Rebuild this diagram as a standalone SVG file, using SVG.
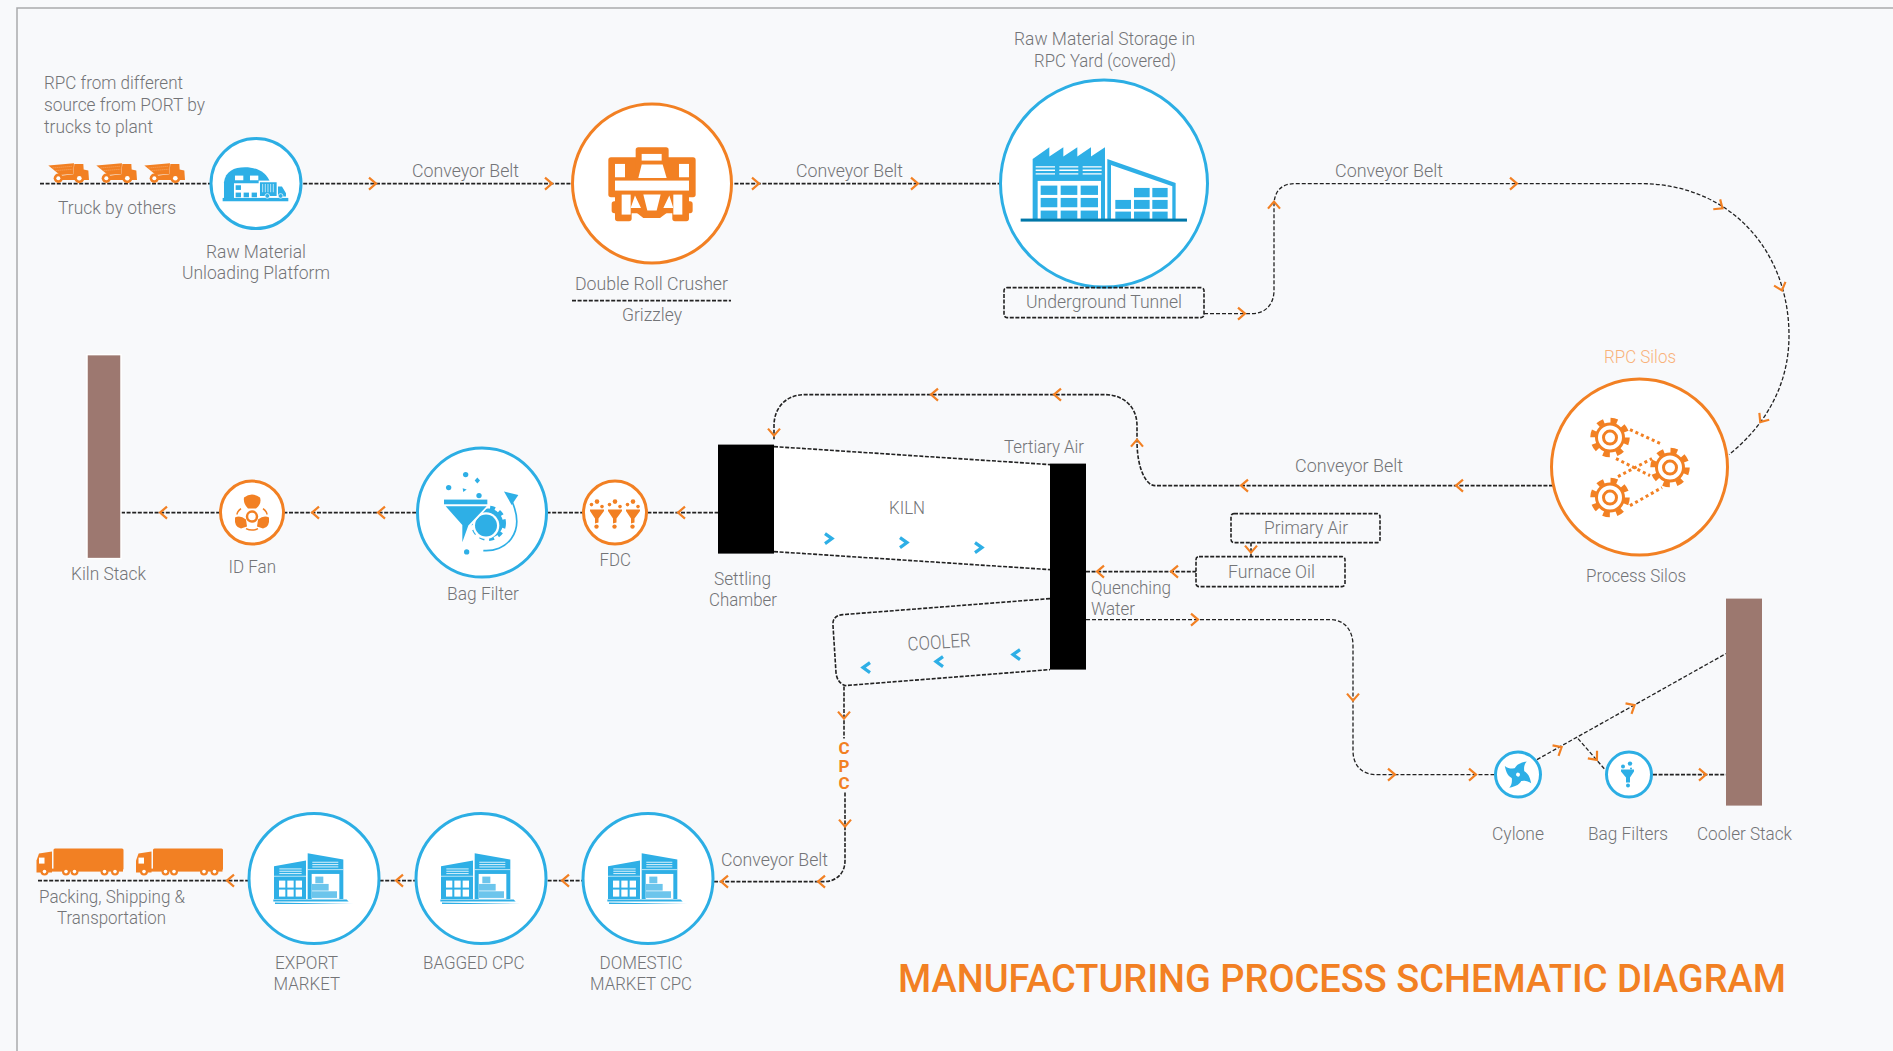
<svg xmlns="http://www.w3.org/2000/svg" width="1893" height="1051" viewBox="0 0 1893 1051">
<style>
text{font-family:"Roboto","Liberation Sans",sans-serif;font-weight:300;font-size:19px;fill:#737477}
.c{fill:none;stroke:#222;stroke-width:1.6;stroke-dasharray:4 1.6}
.t{fill:none;stroke:#222;stroke-width:1.3;stroke-dasharray:4 2}
.b{fill:#fff;stroke:#2caee4;stroke-width:3}
.o{fill:#fff;stroke:#f28023;stroke-width:3}
.box{fill:none;stroke:#222;stroke-width:1.6;stroke-dasharray:4 1.6}
.bf{fill:#2eafe6}.of{fill:#f28023}.wf{fill:#fff}
.ar{fill:none;stroke:#f28023;stroke-width:2.2}
.ka{fill:none;stroke:#2eafe6;stroke-width:3.2}
</style>
<defs>
<path id="a" class="ar" d="M-4-6 3 0-4 6"/>
<path id="k" class="ka" d="M-4-5 3 0-4 5"/>
<g id="dump" transform="scale(.3333)">
<path class="of" d="M25 75 102 68 100 100 60 103Z"/>
<path class="of" d="M103 70H130L131 87 145 90 147 118H60L56 106 100 101Z"/>
<path d="M38 82 97 77M47 90 97 86" stroke="#fde3cd" stroke-width="1.200" stroke-dasharray="3 3" fill="none"/>
<circle class="of" cx="55" cy="113" r="14"/><circle class="wf" cx="55" cy="113" r="6"/>
<circle class="of" cx="118" cy="113" r="15"/><circle class="wf" cx="118" cy="113" r="7"/>
</g>
<g id="trailer">
<rect class="of" x="53.500" y="848" width="70" height="21.500" rx="1.500"/>
<path class="of" d="M36.500 872V860L39 853 52 851V872Z"/>
<rect class="of" x="50" y="868" width="73" height="3"/>
<rect x="39" y="857" width="5.500" height="6" fill="#fff"/>
<g class="of"><circle cx="44.500" cy="871" r="4"/><circle cx="66" cy="871" r="4"/><circle cx="74.500" cy="871" r="4"/><circle cx="104.500" cy="871" r="4"/><circle cx="115" cy="871" r="4"/></g>
<g class="wf"><circle cx="44.500" cy="871" r="1.800"/><circle cx="66" cy="871" r="1.800"/><circle cx="74.500" cy="871" r="1.800"/><circle cx="104.500" cy="871" r="1.800"/><circle cx="115" cy="871" r="1.800"/></g>
</g>
<g id="ware" transform="translate(260 840) scale(.3333)">
<path class="bf" d="M42 77 138 60V175H42Z"/>
<path class="bf" d="M143 38 250 57V175H143Z"/>
<path d="M58 85H125M58 92H125M58 99H125M157 65H235M157 72H235M157 79H235" stroke="#fff" stroke-width="2.500"/>
<path d="M42 107H138M143 87H250" stroke="#fff" stroke-width="2"/>
<g class="wf"><rect x="57" y="120" width="19" height="21"/><rect x="82" y="120" width="19" height="21"/><rect x="107" y="120" width="19" height="21"/><rect x="57" y="147" width="19" height="21"/><rect x="82" y="147" width="19" height="21"/><rect x="107" y="147" width="19" height="21"/><rect x="155" y="100" width="83" height="75"/></g>
<g fill="#6cc5ec"><rect x="166" y="108" width="24" height="20"/><rect x="156" y="130" width="50" height="20"/><rect x="156" y="152" width="75" height="20"/></g>
<path class="bf" d="M40 177H260L266 183H40ZM45 186 280 190H45Z"/>
</g>
<g id="gear">
<circle r="16.500" fill="none" stroke="#f28023" stroke-width="6.500" stroke-dasharray="6.500 6.460"/>
<circle r="13.500" fill="#fff" stroke="#f28023" stroke-width="3"/>
<circle r="6.500" fill="#fff" stroke="#f28023" stroke-width="3"/>
</g>
<g id="minif">
<circle class="of" cx="0" cy="-12" r="2.300"/><circle class="of" cx="-5.500" cy="-9" r="1.800"/><circle class="of" cx="5" cy="-7" r="1.800"/>
<path class="of" d="M-7-4H7V-2.500L1.500 5V9L-2 10V5L-7-2.500Z"/>
<circle class="of" cx="-.5" cy="13" r="2.200"/>
</g>
<path id="blade" class="bf" d="M-5-3C-5-9-1-12 5-15 3-11 4-7 6-3Z"/>
</defs>

<rect width="1893" height="1051" fill="#f8f9fb"/>
<path d="M17 1051V8H1893" fill="none" stroke="#a9abad" stroke-width="1.500"/>

<g transform="translate(0 .6)">
<g id="connectors">
<path class="c" d="M40 183H1004"/>
<path class="t" d="M1204 313H1252C1266 313 1274 303 1274 290V205C1274 192 1280 183 1295 183H1640C1730 183 1789 250 1789 335C1789 385 1765 425 1729 454"/>
<path class="c" d="M1553 485H1155C1146 485 1137 468 1137 440V425C1137 405 1122 394 1105 394H805C785 394 774 408 774 425V440"/>
<path class="c" d="M121 512H718"/>
<path class="c" d="M1086 571H1196"/>
<path class="c" d="M1251 542V556"/>
<path class="t" d="M1086 619H1330C1345 619 1353 630 1353 645V750C1353 765 1362 774 1376 774H1494"/>
<path class="t" d="M1537 759 1726 653"/>
<path class="t" d="M1578 738 1605 769"/>
<path class="c" d="M1653 774H1726"/>
<path class="c" d="M844 686V738M845 792V860C845 873 836 881 824 881H713"/>
<path class="c" d="M38 880H584"/>
<use href="#a" transform="translate(373 183)"/>
<use href="#a" transform="translate(549 183)"/>
<use href="#a" transform="translate(756 183)"/>
<use href="#a" transform="translate(915 183)"/>
<use href="#a" transform="translate(1514 183)"/>
<use href="#a" transform="translate(1720 206) rotate(35)"/>
<use href="#a" transform="translate(1781 287) rotate(72)"/>
<use href="#a" transform="translate(1762 419) rotate(125)"/>
<use href="#a" transform="translate(1242 313)"/>
<use href="#a" transform="translate(1274 204) rotate(-90)"/>
<use href="#a" transform="translate(1459 485) rotate(180)"/>
<use href="#a" transform="translate(1244 485) rotate(180)"/>
<use href="#a" transform="translate(1137 442) rotate(-90)"/>
<use href="#a" transform="translate(1057 394) rotate(180)"/>
<use href="#a" transform="translate(934 394) rotate(180)"/>
<use href="#a" transform="translate(774 432) rotate(90)"/>
<use href="#a" transform="translate(681 512) rotate(180)"/>
<use href="#a" transform="translate(381 512) rotate(180)"/>
<use href="#a" transform="translate(315 512) rotate(180)"/>
<use href="#a" transform="translate(163 512) rotate(180)"/>
<use href="#a" transform="translate(1251 549) rotate(90)"/>
<use href="#a" transform="translate(1174 571) rotate(180)"/>
<use href="#a" transform="translate(1100 571) rotate(180)"/>
<use href="#a" transform="translate(1195 619)"/>
<use href="#a" transform="translate(1353 697) rotate(90)"/>
<use href="#a" transform="translate(1392 774)"/>
<use href="#a" transform="translate(1473 774)"/>
<use href="#a" transform="translate(1559 748) rotate(-30)"/>
<use href="#a" transform="translate(1632 706) rotate(-30)"/>
<use href="#a" transform="translate(1595 757) rotate(50)"/>
<use href="#a" transform="translate(1703 774)"/>
<use href="#a" transform="translate(844 715) rotate(90)"/>
<use href="#a" transform="translate(845 823) rotate(90)"/>
<use href="#a" transform="translate(821 881) rotate(180)"/>
<use href="#a" transform="translate(724 881) rotate(180)"/>
<use href="#a" transform="translate(565 880) rotate(180)"/>
<use href="#a" transform="translate(399 880) rotate(180)"/>
<use href="#a" transform="translate(230 880) rotate(180)"/>
</g>

<g id="trucks">
<use href="#dump" transform="translate(40 140)"/>
<use href="#dump" transform="translate(88 140)"/>
<use href="#dump" transform="translate(136 140)"/>
<text x="44" y="88" textLength="139" lengthAdjust="spacingAndGlyphs">RPC from different</text>
<text x="44" y="110" textLength="161" lengthAdjust="spacingAndGlyphs">source from PORT by</text>
<text x="44" y="132" textLength="109" lengthAdjust="spacingAndGlyphs">trucks to plant</text>
<text x="58" y="213" textLength="118" lengthAdjust="spacingAndGlyphs">Truck by others</text>
</g>

<g id="unloading">
<circle class="b" cx="256" cy="183" r="45"/>
<g transform="translate(40 140) scale(.3333)">
<path class="bf" d="M552 178V125C556 92 582 80 615 80 650 80 680 95 690 125V178Z"/>
<g class="wf"><rect x="585" y="105" width="25" height="14"/><rect x="630" y="105" width="25" height="14"/><rect x="582" y="128" width="82" height="46"/></g>
<g class="bf"><rect x="587" y="134" width="16" height="14"/><rect x="587" y="156" width="16" height="14"/><rect x="611" y="156" width="16" height="14"/><rect x="635" y="156" width="16" height="14"/></g>
<rect class="wf" x="656" y="120" width="90" height="52"/>
<path class="bf" d="M660 125H710V166H660ZM714 138H726L738 158V168H714Z"/>
<path d="M668 130V155M676 130V155M684 130V155M692 130V155M700 130V155" stroke="#fff" stroke-width="2"/>
<rect class="bf" x="548" y="172" width="197" height="10"/>
<circle class="bf" cx="682" cy="166" r="7" stroke="#fff" stroke-width="2"/><circle class="bf" cx="722" cy="166" r="7" stroke="#fff" stroke-width="2"/>
</g>
<text x="206" y="257" textLength="100" lengthAdjust="spacingAndGlyphs">Raw Material</text>
<text x="182" y="278" textLength="148" lengthAdjust="spacingAndGlyphs">Unloading Platform</text>
</g>

<g id="crusher">
<circle class="o" cx="652" cy="183" r="79.500"/>
<g transform="translate(540 90) scale(.3333)">
<rect class="of" x="205" y="200" width="262" height="120" rx="8"/>
<path class="of" d="M295 170H378Q386 170 386 178V240H287V178Q287 170 295 170Z"/>
<rect class="of" x="215" y="332" width="243" height="36" rx="8"/>
<rect class="of" x="225" y="310" width="50" height="82" rx="8"/>
<rect class="of" x="397" y="310" width="50" height="82" rx="8"/>
<path class="of" d="M272 310H400V352L360 382H310L272 352Z"/>
<g class="wf">
<rect x="305" y="190" width="60" height="20"/>
<rect x="225" y="220" width="30" height="40"/><rect x="417" y="220" width="30" height="40"/>
<rect x="225" y="270" width="222" height="30"/>
<path d="M305 222H368L380 262H295Z"/>
<rect x="245" y="312" width="27" height="60"/><rect x="400" y="312" width="27" height="60"/>
<path d="M285 315 272 352H303ZM388 315 370 352H400ZM310 312H362L350 360H322Z"/>
</g>
</g>
<text x="575" y="289" textLength="153" lengthAdjust="spacingAndGlyphs">Double Roll Crusher</text>
<path class="c" d="M572 300H731"/>
<text x="622" y="320" textLength="60" lengthAdjust="spacingAndGlyphs">Grizzley</text>
</g>

<g id="storage">
<circle class="b" cx="1104" cy="183" r="103.500"/>
<g transform="translate(990 70) scale(.3333)">
<path class="bf" d="M128 265 178 230V258L220 230V258L262 230V258L303 230V258L345 230V445H128Z"/>
<path d="M137 289H195M208 289H265M278 289H335M137 299H195M208 299H265M278 299H335M137 310H195M208 310H265M278 310H335" stroke="#fff" stroke-width="4"/>
<rect class="wf" x="143" y="331" width="190" height="114"/>
<g class="bf"><rect x="152" y="345" width="50" height="28"/><rect x="212" y="345" width="50" height="28"/><rect x="272" y="345" width="52" height="28"/><rect x="152" y="382" width="50" height="28"/><rect x="212" y="382" width="50" height="28"/><rect x="272" y="382" width="52" height="28"/><rect x="152" y="420" width="50" height="25"/><rect x="212" y="420" width="50" height="25"/><rect x="272" y="420" width="52" height="25"/></g>
<path class="bf" d="M352 265 557 337V445H352Z"/>
<path class="wf" d="M363 283 547 347V445H363Z"/>
<g class="bf"><rect x="432" y="352" width="47" height="28"/><rect x="487" y="352" width="46" height="28"/><rect x="376" y="388" width="47" height="27"/><rect x="432" y="388" width="47" height="27"/><rect x="487" y="388" width="46" height="27"/><rect x="376" y="423" width="47" height="22"/><rect x="432" y="423" width="47" height="22"/><rect x="487" y="423" width="46" height="22"/></g>
<rect x="92" y="444" width="499" height="9" fill="#0077a8"/>
</g>
<text x="1014" y="44.500" textLength="181" lengthAdjust="spacingAndGlyphs">Raw Material Storage in</text>
<text x="1034" y="66.500" textLength="142" lengthAdjust="spacingAndGlyphs">RPC Yard (covered)</text>
</g>

<g id="tunnel">
<rect class="box" x="1004" y="287" width="200" height="30" rx="3"/>
<text x="1026" y="307" textLength="156" lengthAdjust="spacingAndGlyphs">Underground Tunnel</text>
</g>
<text x="412" y="176.500" textLength="107" lengthAdjust="spacingAndGlyphs">Conveyor Belt</text>
<text x="796" y="176.500" textLength="107" lengthAdjust="spacingAndGlyphs">Conveyor Belt</text>
<text x="1335" y="176.500" textLength="108" lengthAdjust="spacingAndGlyphs">Conveyor Belt</text>
<text x="1295" y="471.500" textLength="108" lengthAdjust="spacingAndGlyphs">Conveyor Belt</text>
<text x="721" y="865" textLength="107" lengthAdjust="spacingAndGlyphs">Conveyor Belt</text>

<g id="silos">
<circle class="o" cx="1639.500" cy="466.500" r="88"/>
<path d="M1630 429 1662.500 444M1616 458 1650 475M1618 476 1652 458M1630 505 1662 487" stroke="#f28023" stroke-width="3" stroke-dasharray="3 3" fill="none"/>
<use href="#gear" transform="translate(1610 437)"/>
<use href="#gear" transform="translate(1610 497)"/>
<use href="#gear" transform="translate(1670 467)"/>
<text x="1604" y="362.500" textLength="72" lengthAdjust="spacingAndGlyphs" style="fill:#f9b27a">RPC Silos</text>
<text x="1586" y="581" textLength="100" lengthAdjust="spacingAndGlyphs">Process Silos</text>
</g>

<g id="kiln-stack">
<rect x="87" y="354" width="34" height="204" fill="#9d7870" stroke="#fff" stroke-width="1.500"/>
<text x="71" y="579" textLength="75" lengthAdjust="spacingAndGlyphs">Kiln Stack</text>
</g>

<g id="id-fan">
<circle class="o" cx="252" cy="512" r="31.500"/>
<g class="of">
<path d="M244 497Q252 491 260 497Q262 503 256 508L248 508Q243 503 244 497Z"/>
<path d="M235 517Q240 514 246 519L247 526 241 528Q234 527 235 517Z"/>
<path d="M269 517Q264 514 258 519L257 526 263 528Q270 527 269 517Z"/>
</g>
<circle cx="252" cy="516" r="5" fill="#fff" stroke="#f28023" stroke-width="2.500"/>
<path d="M241 508Q237 511 237 514M263 508Q267 511 267 514M246 528Q252 531 258 528" fill="none" stroke="#f28023" stroke-width="1.500"/>
<text x="228.500" y="572" textLength="47.500" lengthAdjust="spacingAndGlyphs">ID Fan</text>
</g>

<g id="bag-filter">
<circle class="b" cx="482" cy="512" r="64.500"/>
<g transform="translate(430 445) scale(.3333)">
<circle class="bf" cx="107" cy="87" r="8"/><path class="bf" d="M142 96 150 105 142 114 134 105Z"/><circle class="bf" cx="56" cy="126" r="8"/><path class="bf" d="M98 128 110 132 100 139Z"/><circle class="bf" cx="147" cy="150" r="8"/><circle class="bf" cx="110" cy="319" r="8"/>
<circle cx="175" cy="233" r="45" fill="none" stroke="#2eafe6" stroke-width="16" stroke-dasharray="14 13"/>
<circle class="bf" cx="175" cy="233" r="44"/>
<circle class="wf" cx="168" cy="240" r="40"/>
<circle class="bf" cx="168" cy="240" r="33"/>
<path class="wf" d="M40 178H180L118 246 112 294H92V240Z"/>
<rect class="bf" x="42" y="162" width="130" height="14"/>
<path class="bf" d="M47 182H170L115 240 97 290V238Z"/>
<path d="M160 315C225 320 290 265 245 165" fill="none" stroke="#2eafe6" stroke-width="5"/>
<path class="bf" d="M222 138 265 148 245 178Z"/>
</g>
<text x="447" y="599" textLength="72" lengthAdjust="spacingAndGlyphs">Bag Filter</text>
</g>

<g id="fdc">
<circle class="o" cx="615" cy="512" r="31.500"/>
<use href="#minif" transform="translate(597 513)"/>
<use href="#minif" transform="translate(615 513)"/>
<use href="#minif" transform="translate(633 513)"/>
<text x="599.500" y="565" textLength="31.500" lengthAdjust="spacingAndGlyphs">FDC</text>
</g>

<g id="settling-chamber">
<rect x="718" y="444" width="56" height="109" fill="#000"/>
<text x="714" y="584" textLength="57" lengthAdjust="spacingAndGlyphs">Settling</text>
<text x="709" y="605" textLength="68" lengthAdjust="spacingAndGlyphs">Chamber</text>
</g>

<g id="kiln">
<path class="wf" d="M774 446 1050 464V569L774 551Z"/>
<path class="c" d="M774 446 1050 464M774 551 1050 569"/>
<text x="889" y="513" textLength="36" lengthAdjust="spacingAndGlyphs">KILN</text>
<use href="#k" transform="translate(829 538)"/>
<use href="#k" transform="translate(904 542)"/>
<use href="#k" transform="translate(979 547)"/>
</g>

<g id="cooler">
<path class="c" d="M1050 598 843 614Q832 615 833 625L836 672Q837 682 845 685L1050 669"/>
<text x="908" y="648" textLength="63" lengthAdjust="spacingAndGlyphs" transform="rotate(-4 939 648)">COOLER</text>
<use href="#k" transform="translate(866 667) rotate(180)"/>
<use href="#k" transform="translate(939 661) rotate(180)"/>
<use href="#k" transform="translate(1016 654) rotate(180)"/>
</g>

<g id="burner">
<rect x="1050" y="463" width="36" height="206" fill="#000"/>
<text x="1004" y="452" textLength="80" lengthAdjust="spacingAndGlyphs">Tertiary Air</text>
<text x="1091" y="593" textLength="80" lengthAdjust="spacingAndGlyphs">Quenching</text>
<text x="1091" y="614" textLength="44" lengthAdjust="spacingAndGlyphs">Water</text>
</g>

<g id="primary-air">
<rect class="box" x="1231" y="513" width="149" height="29" rx="3"/>
<text x="1264" y="533" textLength="84" lengthAdjust="spacingAndGlyphs">Primary Air</text>
</g>
<g id="furnace-oil">
<rect class="box" x="1196" y="556" width="149" height="30" rx="3"/>
<text x="1228" y="577" textLength="87" lengthAdjust="spacingAndGlyphs">Furnace Oil</text>
</g>

<g id="cyclone">
<circle class="b" cx="1518" cy="774" r="22.500"/>
<g transform="translate(1518 774) rotate(15)">
<use href="#blade"/><use href="#blade" transform="rotate(90)"/><use href="#blade" transform="rotate(180)"/><use href="#blade" transform="rotate(270)"/>
<path class="bf" d="M0-8 8 0 0 8-8 0Z"/>
<circle r="2" fill="#fff"/>
</g>
<text x="1492" y="839" textLength="52" lengthAdjust="spacingAndGlyphs">Cylone</text>
</g>

<g id="bag-filters">
<circle class="b" cx="1629" cy="774" r="22.500"/>
<circle class="bf" cx="1623" cy="766" r="2"/><circle class="bf" cx="1630" cy="763" r="2.200"/><circle class="bf" cx="1631" cy="768" r="1"/>
<path class="bf" d="M1621 769H1634V771L1630 777V782H1626V777L1621 771Z"/>
<circle class="bf" cx="1628" cy="785" r="2"/>
<text x="1588" y="839" textLength="80" lengthAdjust="spacingAndGlyphs">Bag Filters</text>
</g>

<g id="cooler-stack">
<rect x="1726" y="598" width="36" height="207" fill="#9c786f"/>
<text x="1697" y="839" textLength="95" lengthAdjust="spacingAndGlyphs">Cooler Stack</text>
</g>

<g id="cpc-label">
<text x="844" y="753.500" text-anchor="middle" style="fill:#f28023;font-weight:700;font-size:17px">C</text>
<text x="844" y="771.500" text-anchor="middle" style="fill:#f28023;font-weight:700;font-size:17px">P</text>
<text x="844" y="788.500" text-anchor="middle" style="fill:#f28023;font-weight:700;font-size:17px">C</text>
</g>

<g id="domestic">
<circle class="b" cx="648" cy="878" r="65"/>
<use href="#ware" x="334"/>
<text x="599.500" y="968" textLength="83" lengthAdjust="spacingAndGlyphs">DOMESTIC</text>
<text x="590" y="989" textLength="102" lengthAdjust="spacingAndGlyphs">MARKET CPC</text>
</g>
<g id="bagged">
<circle class="b" cx="481" cy="878" r="65"/>
<use href="#ware" x="167"/>
<text x="423" y="968" textLength="101.500" lengthAdjust="spacingAndGlyphs">BAGGED CPC</text>
</g>
<g id="export">
<circle class="b" cx="314" cy="878" r="65"/>
<use href="#ware"/>
<text x="275" y="968" textLength="63" lengthAdjust="spacingAndGlyphs">EXPORT</text>
<text x="273.500" y="989" textLength="66.500" lengthAdjust="spacingAndGlyphs">MARKET</text>
</g>
<g id="transport">
<use href="#trailer"/>
<use href="#trailer" x="99.500"/>
<text x="39" y="902" textLength="146" lengthAdjust="spacingAndGlyphs">Packing, Shipping &amp;</text>
<text x="57" y="923" textLength="109" lengthAdjust="spacingAndGlyphs">Transportation</text>
</g>

<text id="title" x="898" y="991" textLength="888" lengthAdjust="spacingAndGlyphs" style="fill:#f28023;font-weight:500;font-size:39px">MANUFACTURING PROCESS SCHEMATIC DIAGRAM</text>
</g>
</svg>
